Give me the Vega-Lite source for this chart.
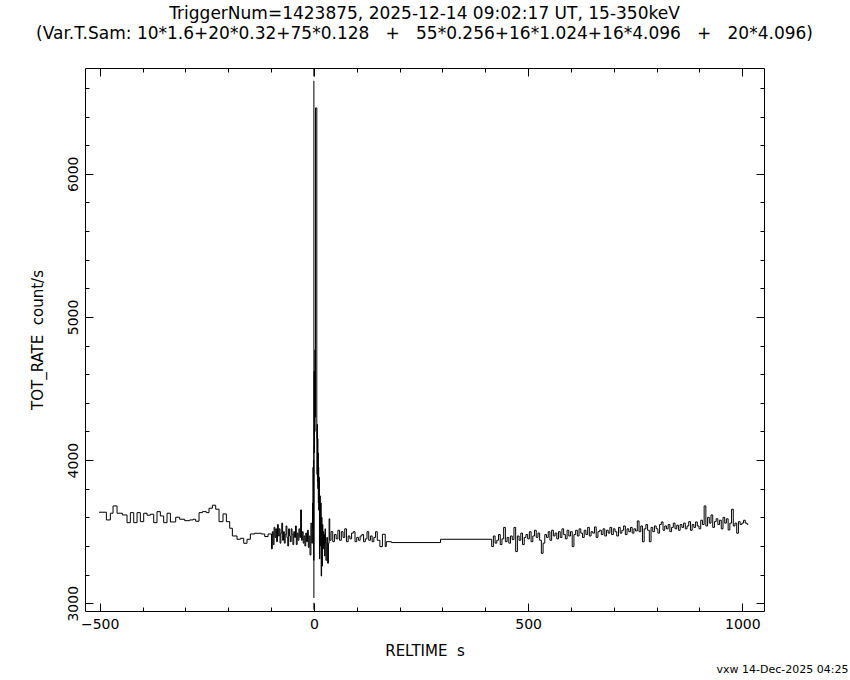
{
  "$schema": "https://vega.github.io/schema/vega-lite/v6.json",
  "width": 679,
  "height": 543,
  "autosize": {"type": "none"},
  "padding": {"left": 85, "top": 68, "right": 86, "bottom": 69},
  "background": "white",
  "title": {
    "text": ["TriggerNum=1423875, 2025-12-14 09:02:17 UT, 15-350keV", "(Var.T.Sam: 10*1.6+20*0.32+75*0.128\u00a0\u00a0\u00a0+\u00a0\u00a0\u00a055*0.256+16*1.024+16*4.096\u00a0\u00a0\u00a0+\u00a0\u00a0\u00a020*4.096)"],
    "font": "DejaVu Sans",
    "fontSize": 17,
    "fontWeight": "normal",
    "lineHeight": 20,
    "color": "black",
    "anchor": "middle",
    "offset": 25
  },
  "datasets": {
    "lc": [
      {"t": -501.6, "r": 3636}, {"t": -484.4, "r": 3582}, {"t": -475.1, "r": 3629}, {"t": -468.9, "r": 3680},
      {"t": -459.5, "r": 3629}, {"t": -447.1, "r": 3617}, {"t": -436.2, "r": 3563}, {"t": -428.4, "r": 3633},
      {"t": -420.6, "r": 3563}, {"t": -412.8, "r": 3633}, {"t": -405.1, "r": 3570}, {"t": -397.3, "r": 3629},
      {"t": -389.5, "r": 3615}, {"t": -381.7, "r": 3622}, {"t": -373.9, "r": 3563}, {"t": -366.2, "r": 3640},
      {"t": -358.4, "r": 3610}, {"t": -350.6, "r": 3563}, {"t": -342.8, "r": 3629}, {"t": -335.0, "r": 3568},
      {"t": -322.6, "r": 3601}, {"t": -313.3, "r": 3587}, {"t": -301.6, "r": 3577}, {"t": -289.9, "r": 3582},
      {"t": -282.1, "r": 3587}, {"t": -275.9, "r": 3573}, {"t": -268.1, "r": 3633}, {"t": -260.3, "r": 3640},
      {"t": -251.0, "r": 3633}, {"t": -244.8, "r": 3664}, {"t": -237.0, "r": 3685}, {"t": -229.2, "r": 3657},
      {"t": -221.4, "r": 3570}, {"t": -212.1, "r": 3624}, {"t": -204.3, "r": 3570}, {"t": -196.5, "r": 3524},
      {"t": -190.3, "r": 3470}, {"t": -179.4, "r": 3447}, {"t": -171.6, "r": 3454}, {"t": -163.8, "r": 3419},
      {"t": -156.1, "r": 3447}, {"t": -148.3, "r": 3484}, {"t": -138.2, "r": 3489}, {"t": -122.6, "r": 3484},
      {"t": -114.8, "r": 3466}, {"t": -107.0, "r": 3484},
      {"t": -99, "r": 3380}, {"t": -97, "r": 3500}, {"t": -95, "r": 3410}, {"t": -93, "r": 3530},
      {"t": -91, "r": 3460}, {"t": -89, "r": 3520}, {"t": -87, "r": 3430}, {"t": -85, "r": 3550},
      {"t": -83, "r": 3470}, {"t": -81, "r": 3520}, {"t": -79, "r": 3420}, {"t": -77, "r": 3490},
      {"t": -75, "r": 3560}, {"t": -73, "r": 3440}, {"t": -71, "r": 3500}, {"t": -69, "r": 3420},
      {"t": -67, "r": 3480}, {"t": -65, "r": 3540}, {"t": -63, "r": 3460}, {"t": -61, "r": 3400},
      {"t": -59, "r": 3520}, {"t": -57, "r": 3470}, {"t": -55, "r": 3430}, {"t": -53, "r": 3520},
      {"t": -51, "r": 3480}, {"t": -49, "r": 3410}, {"t": -47, "r": 3500}, {"t": -45, "r": 3460},
      {"t": -43, "r": 3540}, {"t": -41, "r": 3410}, {"t": -39, "r": 3490}, {"t": -37, "r": 3440},
      {"t": -35, "r": 3520}, {"t": -33, "r": 3460}, {"t": -31, "r": 3652}, {"t": -29, "r": 3440},
      {"t": -27, "r": 3500}, {"t": -25, "r": 3420}, {"t": -23, "r": 3470}, {"t": -21, "r": 3400},
      {"t": -19, "r": 3490}, {"t": -17, "r": 3430}, {"t": -15, "r": 3510}, {"t": -13, "r": 3390},
      {"t": -11, "r": 3470}, {"t": -9, "r": 3337}, {"t": -7, "r": 3560}, {"t": -5, "r": 3420},
      {"t": -3.0, "r": 3700}, {"t": -2.5, "r": 3520}, {"t": -2.0, "r": 3950}, {"t": -1.5, "r": 3600},
      {"t": -1.0, "r": 4000}, {"t": -0.5, "r": 3300}, {"t": 0.0, "r": 4100}, {"t": 0.5, "r": 4620},
      {"t": 1.0, "r": 4050}, {"t": 1.5, "r": 4500}, {"t": 2.0, "r": 4200}, {"t": 2.5, "r": 4770},
      {"t": 3.0, "r": 4300}, {"t": 3.7, "r": 6460}, {"t": 6.8, "r": 4150}, {"t": 7.3, "r": 3900},
      {"t": 7.8, "r": 4250}, {"t": 8.3, "r": 3850}, {"t": 8.8, "r": 4150}, {"t": 9.3, "r": 3800},
      {"t": 9.8, "r": 4050}, {"t": 10.3, "r": 3700}, {"t": 10.8, "r": 3950}, {"t": 11.3, "r": 3650},
      {"t": 12.0, "r": 3880}, {"t": 13.0, "r": 3310}, {"t": 14.0, "r": 3750}, {"t": 15.0, "r": 3400},
      {"t": 16.0, "r": 3700}, {"t": 17.0, "r": 3190}, {"t": 18.0, "r": 3600}, {"t": 19.0, "r": 3260},
      {"t": 20.0, "r": 3550}, {"t": 21.0, "r": 3380}, {"t": 22.0, "r": 3500}, {"t": 23.0, "r": 3400},
      {"t": 24.0, "r": 3480}, {"t": 25.0, "r": 3330}, {"t": 26.0, "r": 3520}, {"t": 27.0, "r": 3420},
      {"t": 28, "r": 3300}, {"t": 30, "r": 3460}, {"t": 32, "r": 3280}, {"t": 34, "r": 3420},
      {"t": 35.5, "r": 3590}, {"t": 37, "r": 3440}, {"t": 40, "r": 3500}, {"t": 44, "r": 3430},
      {"t": 48, "r": 3480}, {"t": 52, "r": 3450}, {"t": 56, "r": 3510}, {"t": 60, "r": 3440},
      {"t": 64, "r": 3500}, {"t": 68, "r": 3460}, {"t": 72, "r": 3520}, {"t": 76, "r": 3430},
      {"t": 80, "r": 3470}, {"t": 84, "r": 3450}, {"t": 88, "r": 3490}, {"t": 92, "r": 3500},
      {"t": 96, "r": 3430}, {"t": 100, "r": 3460}, {"t": 104, "r": 3440}, {"t": 108, "r": 3470},
      {"t": 112, "r": 3480}, {"t": 116, "r": 3430}, {"t": 120, "r": 3450}, {"t": 124, "r": 3500},
      {"t": 128, "r": 3440}, {"t": 132, "r": 3470}, {"t": 136, "r": 3430}, {"t": 140, "r": 3460},
      {"t": 144, "r": 3500}, {"t": 148, "r": 3440}, {"t": 154, "r": 3396}, {"t": 160, "r": 3482},
      {"t": 166.5, "r": 3396}, {"t": 169, "r": 3430}, {"t": 181, "r": 3424}, {"t": 295.6, "r": 3447},
      {"t": 415, "r": 3396}, {"t": 419, "r": 3470}, {"t": 423, "r": 3420}, {"t": 427, "r": 3440}, {"t": 431, "r": 3480},
      {"t": 435, "r": 3410}, {"t": 439, "r": 3450}, {"t": 443, "r": 3530}, {"t": 447, "r": 3430}, {"t": 451, "r": 3460},
      {"t": 455, "r": 3420}, {"t": 459, "r": 3470}, {"t": 463, "r": 3445}, {"t": 467, "r": 3530}, {"t": 471, "r": 3361},
      {"t": 475, "r": 3470}, {"t": 479, "r": 3440}, {"t": 483, "r": 3490}, {"t": 487, "r": 3410}, {"t": 491, "r": 3460},
      {"t": 495, "r": 3480}, {"t": 499, "r": 3450}, {"t": 503, "r": 3500}, {"t": 507, "r": 3430}, {"t": 511, "r": 3470},
      {"t": 515, "r": 3510}, {"t": 519, "r": 3460}, {"t": 523, "r": 3490}, {"t": 527, "r": 3440}, {"t": 531, "r": 3349},
      {"t": 535, "r": 3420}, {"t": 539, "r": 3480}, {"t": 543, "r": 3460}, {"t": 547, "r": 3500}, {"t": 551, "r": 3440},
      {"t": 555, "r": 3510}, {"t": 559, "r": 3470}, {"t": 563, "r": 3490}, {"t": 567, "r": 3450}, {"t": 571, "r": 3500},
      {"t": 575, "r": 3460}, {"t": 579, "r": 3520}, {"t": 583, "r": 3480}, {"t": 587, "r": 3450}, {"t": 591, "r": 3510},
      {"t": 595, "r": 3470}, {"t": 599, "r": 3500}, {"t": 603, "r": 3396}, {"t": 607, "r": 3480}, {"t": 611, "r": 3510},
      {"t": 615, "r": 3470}, {"t": 619, "r": 3520}, {"t": 623, "r": 3490}, {"t": 627, "r": 3460}, {"t": 631, "r": 3510},
      {"t": 635, "r": 3480}, {"t": 639, "r": 3530}, {"t": 643, "r": 3470}, {"t": 647, "r": 3500}, {"t": 651, "r": 3490},
      {"t": 655, "r": 3533}, {"t": 659, "r": 3460}, {"t": 663, "r": 3500}, {"t": 667, "r": 3510}, {"t": 671, "r": 3480},
      {"t": 675, "r": 3520}, {"t": 679, "r": 3470}, {"t": 683, "r": 3510}, {"t": 687, "r": 3490}, {"t": 691, "r": 3530},
      {"t": 695, "r": 3480}, {"t": 699, "r": 3520}, {"t": 703, "r": 3500}, {"t": 707, "r": 3470}, {"t": 711, "r": 3530},
      {"t": 715, "r": 3490}, {"t": 719, "r": 3510}, {"t": 723, "r": 3540}, {"t": 727, "r": 3480}, {"t": 731, "r": 3520},
      {"t": 735, "r": 3500}, {"t": 739, "r": 3530}, {"t": 743, "r": 3490}, {"t": 747, "r": 3520}, {"t": 751, "r": 3505},
      {"t": 755, "r": 3575}, {"t": 759, "r": 3500}, {"t": 763, "r": 3540}, {"t": 767, "r": 3430}, {"t": 771, "r": 3520},
      {"t": 775, "r": 3550}, {"t": 779, "r": 3510}, {"t": 783, "r": 3430}, {"t": 787, "r": 3530}, {"t": 791, "r": 3500},
      {"t": 795, "r": 3540}, {"t": 799, "r": 3520}, {"t": 803, "r": 3490}, {"t": 807, "r": 3550}, {"t": 811, "r": 3568},
      {"t": 815, "r": 3510}, {"t": 819, "r": 3540}, {"t": 823, "r": 3520}, {"t": 827, "r": 3550}, {"t": 831, "r": 3500},
      {"t": 835, "r": 3530}, {"t": 839, "r": 3560}, {"t": 843, "r": 3520}, {"t": 847, "r": 3545}, {"t": 851, "r": 3510},
      {"t": 855, "r": 3550}, {"t": 859, "r": 3530}, {"t": 863, "r": 3560}, {"t": 867, "r": 3520}, {"t": 871, "r": 3540},
      {"t": 875, "r": 3570}, {"t": 879, "r": 3510}, {"t": 883, "r": 3550}, {"t": 887, "r": 3530}, {"t": 891, "r": 3568},
      {"t": 895, "r": 3540}, {"t": 899, "r": 3520}, {"t": 903, "r": 3580}, {"t": 907, "r": 3550}, {"t": 911, "r": 3680},
      {"t": 915, "r": 3540}, {"t": 919, "r": 3600}, {"t": 923, "r": 3560}, {"t": 927, "r": 3617}, {"t": 931, "r": 3530},
      {"t": 935, "r": 3570}, {"t": 939, "r": 3590}, {"t": 943, "r": 3550}, {"t": 947, "r": 3580}, {"t": 951, "r": 3520},
      {"t": 955, "r": 3600}, {"t": 959, "r": 3560}, {"t": 963, "r": 3590}, {"t": 967, "r": 3512}, {"t": 971, "r": 3560},
      {"t": 975, "r": 3657}, {"t": 979, "r": 3540}, {"t": 983, "r": 3560}, {"t": 987, "r": 3489}, {"t": 991, "r": 3570},
      {"t": 995, "r": 3550}, {"t": 999, "r": 3560}, {"t": 1003, "r": 3580}, {"t": 1007, "r": 3560}, {"t": 1011, "r": 3552},
      {"t": 1014, "r": 3552}
    ],
    "trig": [
      {"t": 0, "y1": 6739, "y2": 6680},
      {"t": 0, "y1": 6650, "y2": 3037},
      {"t": 0, "y1": 3003, "y2": 2955}
    ],
    "ax": [{"t": 0, "r": 4000}]
  },
  "layer": [
    {
      "data": {"name": "lc"},
      "mark": {"type": "line", "interpolate": "step-after", "color": "black", "strokeWidth": 1},
      "encoding": {
        "x": {"field": "t", "type": "quantitative",
          "scale": {"domain": [-534.3, 1050.7], "nice": false, "zero": false},
          "axis": {"orient": "bottom", "values": [-500, 0, 500, 1000], "tickSize": -8, "format": "d",
            "labelPadding": 14, "title": "RELTIME\u00a0\u00a0s", "titlePadding": 12}},
        "y": {"field": "r", "type": "quantitative",
          "scale": {"domain": [2946, 6739], "nice": false, "zero": false},
          "axis": {"orient": "left", "values": [3000, 4000, 5000, 6000], "tickSize": -8, "format": "d",
            "labelAngle": -90, "labelAlign": "center", "labelBaseline": "bottom", "labelPadding": 13,
            "title": "TOT_RATE\u00a0\u00a0count/s", "titlePadding": 21}}
      }
    },
    {
      "data": {"name": "ax"},
      "mark": {"type": "point", "opacity": 0},
      "encoding": {
        "x": {"field": "t", "type": "quantitative",
          "scale": {"domain": [-534.3, 1050.7], "nice": false, "zero": false},
          "axis": {"orient": "bottom", "values": [-500, -400, -300, -200, -100, 0, 100, 200, 300, 400, 500, 600, 700, 800, 900, 1000],
            "tickSize": -4, "labels": false, "title": "vxw 14-Dec-2025 04:25", "titleFontSize": 11,
            "titleX": 763, "titleY": 61, "titleAlign": "right", "titleBaseline": "alphabetic", "titleAnchor": "end"}},
        "y": {"field": "r", "type": "quantitative",
          "scale": {"domain": [2946, 6739], "nice": false, "zero": false},
          "axis": {"orient": "left", "values": [3000, 3200, 3400, 3600, 3800, 4000, 4200, 4400, 4600, 4800, 5000, 5200, 5400, 5600, 5800, 6000, 6200, 6400, 6600],
            "tickSize": -4, "labels": false, "title": null}}
      }
    },
    {
      "data": {"name": "ax"},
      "mark": {"type": "point", "opacity": 0},
      "encoding": {
        "x": {"field": "t", "type": "quantitative",
          "scale": {"domain": [-534.3, 1050.7], "nice": false, "zero": false},
          "axis": {"orient": "top", "values": [-500, 0, 500, 1000], "tickSize": -8, "labels": false, "title": null}},
        "y": {"field": "r", "type": "quantitative",
          "scale": {"domain": [2946, 6739], "nice": false, "zero": false},
          "axis": {"orient": "right", "values": [3000, 4000, 5000, 6000], "tickSize": -8, "labels": false, "title": null}}
      }
    },
    {
      "data": {"name": "ax"},
      "mark": {"type": "point", "opacity": 0},
      "encoding": {
        "x": {"field": "t", "type": "quantitative",
          "scale": {"domain": [-534.3, 1050.7], "nice": false, "zero": false},
          "axis": {"orient": "top", "values": [-500, -400, -300, -200, -100, 0, 100, 200, 300, 400, 500, 600, 700, 800, 900, 1000],
            "tickSize": -4, "labels": false, "title": null}},
        "y": {"field": "r", "type": "quantitative",
          "scale": {"domain": [2946, 6739], "nice": false, "zero": false},
          "axis": {"orient": "right", "values": [3000, 3200, 3400, 3600, 3800, 4000, 4200, 4400, 4600, 4800, 5000, 5200, 5400, 5600, 5800, 6000, 6200, 6400, 6600],
            "tickSize": -4, "labels": false, "title": null}}
      }
    },
    {
      "data": {"name": "trig"},
      "mark": {"type": "rule", "color": "black", "strokeWidth": 1},
      "encoding": {
        "x": {"field": "t", "type": "quantitative",
          "scale": {"domain": [-534.3, 1050.7], "nice": false, "zero": false}, "axis": null},
        "y": {"field": "y1", "type": "quantitative",
          "scale": {"domain": [2946, 6739], "nice": false, "zero": false}, "axis": null},
        "y2": {"field": "y2"}
      }
    }
  ],
  "resolve": {"axis": {"x": "independent", "y": "independent"}},
  "config": {
    "view": {"stroke": "black", "strokeWidth": 1},
    "axis": {
      "domain": false,
      "grid": false,
      "ticks": true,
      "tickColor": "black",
      "tickWidth": 1,
      "labelColor": "black",
      "labelFont": "DejaVu Sans",
      "labelFontSize": 14,
      "labelFlush": false,
      "labelOverlap": false,
      "titleColor": "black",
      "titleFont": "DejaVu Sans",
      "titleFontSize": 15,
      "titleFontWeight": "normal"
    }
  }
}
